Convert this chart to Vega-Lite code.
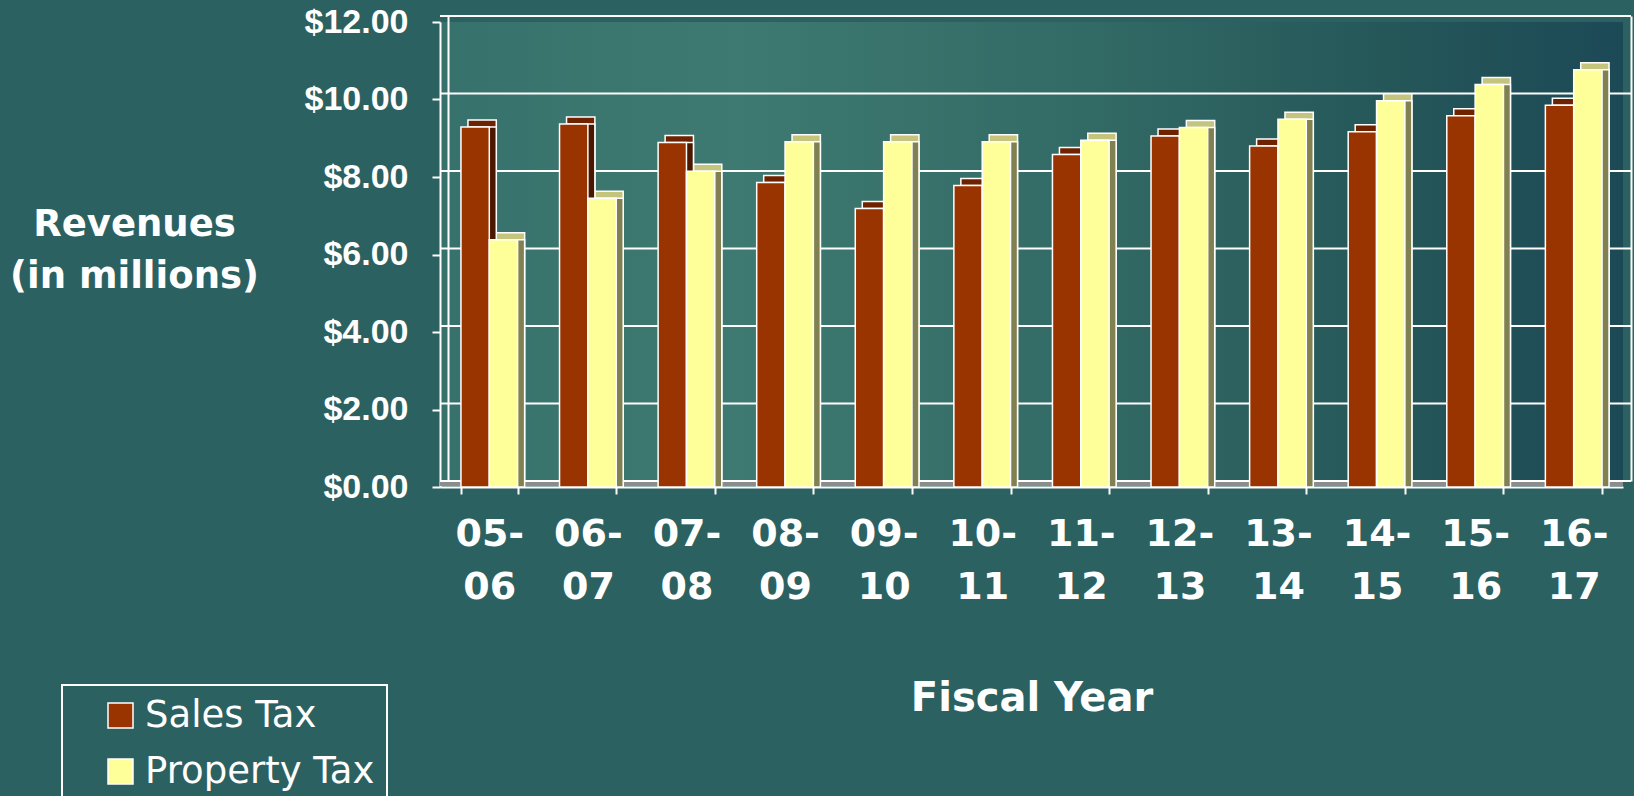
{
  "$schema": "https://vega.github.io/schema/vega-lite/v6.json",
  "width": 1183,
  "height": 465,
  "autosize": {"type": "none"},
  "padding": {"left": 440, "top": 22, "right": 11, "bottom": 309},
  "background": "#2c6161",
  "datasets": {
    "revenue": [
      {"year": "05-06", "type": "Sales Tax", "value": 9.29},
      {"year": "06-07", "type": "Sales Tax", "value": 9.37},
      {"year": "07-08", "type": "Sales Tax", "value": 8.89},
      {"year": "08-09", "type": "Sales Tax", "value": 7.86},
      {"year": "09-10", "type": "Sales Tax", "value": 7.19},
      {"year": "10-11", "type": "Sales Tax", "value": 7.78},
      {"year": "11-12", "type": "Sales Tax", "value": 8.58},
      {"year": "12-13", "type": "Sales Tax", "value": 9.06},
      {"year": "13-14", "type": "Sales Tax", "value": 8.8},
      {"year": "14-15", "type": "Sales Tax", "value": 9.17},
      {"year": "15-16", "type": "Sales Tax", "value": 9.58},
      {"year": "16-17", "type": "Sales Tax", "value": 9.85},
      {"year": "05-06", "type": "Property Tax", "value": 6.38},
      {"year": "06-07", "type": "Property Tax", "value": 7.45},
      {"year": "07-08", "type": "Property Tax", "value": 8.15},
      {"year": "08-09", "type": "Property Tax", "value": 8.91},
      {"year": "09-10", "type": "Property Tax", "value": 8.91},
      {"year": "10-11", "type": "Property Tax", "value": 8.91},
      {"year": "11-12", "type": "Property Tax", "value": 8.95},
      {"year": "12-13", "type": "Property Tax", "value": 9.28},
      {"year": "13-14", "type": "Property Tax", "value": 9.49},
      {"year": "14-15", "type": "Property Tax", "value": 9.97},
      {"year": "15-16", "type": "Property Tax", "value": 10.39},
      {"year": "16-17", "type": "Property Tax", "value": 10.77}
    ],
    "grid": [{"g": 0}, {"g": 2}, {"g": 4}, {"g": 6}, {"g": 8}, {"g": 10}, {"g": 12}]
  },
  "config": {
    "view": {
      "stroke": null,
      "fill": {
        "gradient": "linear", "x1": 0, "y1": 0, "x2": 1, "y2": 0,
        "stops": [
          {"offset": 0, "color": "#37716c"},
          {"offset": 0.25, "color": "#3e7a71"},
          {"offset": 0.55, "color": "#326a65"},
          {"offset": 0.8, "color": "#255759"},
          {"offset": 1, "color": "#1c4956"}
        ]
      }
    },
    "axisX": {
      "titleFont": "DejaVu Sans", "titleFontWeight": "bold", "titleFontSize": 40, "titleColor": "white",
      "titleBaseline": "alphabetic", "titleY": 223,
      "labelFont": "DejaVu Sans", "labelFontWeight": "bold", "labelFontSize": 38, "labelColor": "white",
      "labelLineHeight": 53, "labelPadding": 21, "labelAngle": 0, "labelOverlap": false, "labelBound": false,
      "domainColor": "white", "domainWidth": 2,
      "ticks": true, "tickBand": "extent", "tickColor": "white", "tickWidth": 2, "tickSize": 7,
      "grid": false
    },
    "legend": {"strokeWidth": 2}
  },
  "layer": [
    {
      "data": {"name": "grid"},
      "mark": {"type": "rule", "color": "white", "strokeWidth": 2, "xOffset": 8, "x2Offset": 8, "yOffset": -6},
      "encoding": {
        "y": {
          "field": "g", "type": "quantitative",
          "scale": {"domain": [0, 12], "nice": false},
          "axis": {"orient": "left", "offset": -8, "position": -6, "domain": true, "domainColor": "white", "domainWidth": 2, "labels": false, "ticks": false, "grid": false, "title": null}
        }
      }
    },
    {
      "data": {"values": [{}]},
      "mark": {"type": "rect", "color": "#8c8c8c", "yOffset": -5, "y2Offset": -1},
      "encoding": {
        "y": {"datum": 0, "type": "quantitative", "scale": {"domain": [0, 12], "nice": false}, "axis": null},
        "y2": {"datum": 0}
      }
    },
    {
      "data": {"name": "revenue"},
      "mark": {"type": "bar", "yOffset": -7, "y2Offset": -7, "stroke": "white", "strokeWidth": 1.5},
      "encoding": {
        "x": {"field": "year", "type": "nominal", "scale": {"paddingInner": 0.425, "paddingOuter": 0.2125}, "title": "Fiscal Year", "axis": {"labelExpr": "datum.label ? [split(datum.label, '-')[0] + '-', split(datum.label, '-')[1]] : ''"}},
        "xOffset": {"field": "type", "type": "nominal", "sort": ["Sales Tax", "Property Tax"], "scale": {"range": [7, 63.685]}},
        "y": {"field": "value", "type": "quantitative", "scale": {"domain": [0, 12], "nice": false}, "axis": null},
        "color": {"field": "type", "type": "nominal", "scale": {"domain": ["Sales Tax", "Property Tax"], "range": ["#6e2200", "#c4c47c"]}, "legend": null}
      }
    },
    {
      "data": {"name": "revenue"},
      "mark": {"type": "bar", "stroke": "white", "strokeWidth": 1.5},
      "encoding": {
        "x": {"field": "year", "type": "nominal", "scale": {"paddingInner": 0.425, "paddingOuter": 0.2125}, "title": "Fiscal Year", "axis": {"labelExpr": "datum.label ? [split(datum.label, '-')[0] + '-', split(datum.label, '-')[1]] : ''"}},
        "xOffset": {"field": "type", "type": "nominal", "sort": ["Sales Tax", "Property Tax"], "scale": {"range": [7, 63.685]}},
        "y": {
          "field": "value", "type": "quantitative", "scale": {"domain": [0, 12], "nice": false},
          "axis": {"orient": "right", "offset": 8, "position": -6, "domain": true, "domainColor": "white", "domainWidth": 2, "labels": false, "ticks": false, "grid": false, "title": null}
        },
        "color": {"field": "type", "type": "nominal", "scale": {"domain": ["Sales Tax", "Property Tax"], "range": ["#4a1700", "#808050"]}, "legend": null}
      }
    },
    {
      "data": {"name": "revenue"},
      "mark": {"type": "bar", "stroke": "white", "strokeWidth": 1.5},
      "encoding": {
        "x": {"field": "year", "type": "nominal", "scale": {"paddingInner": 0.425, "paddingOuter": 0.2125}, "title": "Fiscal Year", "axis": {"labelExpr": "datum.label ? [split(datum.label, '-')[0] + '-', split(datum.label, '-')[1]] : ''"}},
        "xOffset": {"field": "type", "type": "nominal", "sort": ["Sales Tax", "Property Tax"]},
        "y": {
          "field": "value", "type": "quantitative", "scale": {"domain": [0, 12], "nice": false},
          "axis": {
            "orient": "left",
            "values": [0, 2, 4, 6, 8, 10, 12],
            "format": "$.2f",
            "labelFont": "Liberation Sans", "labelFontWeight": "bold", "labelFontSize": 34, "labelColor": "white",
            "labelPadding": 24,
            "domainColor": "white", "domainWidth": 2,
            "tickColor": "white", "tickWidth": 2, "tickSize": 8,
            "grid": false,
            "title": ["Revenues", "(in millions)"],
            "titleFont": "DejaVu Sans", "titleFontWeight": "bold", "titleFontSize": 37, "titleColor": "white",
            "titleAngle": 0, "titleAlign": "center", "titleBaseline": "alphabetic",
            "titleX": -306, "titleY": 213, "titleLineHeight": 52
          }
        },
        "color": {
          "field": "type", "type": "nominal",
          "scale": {"domain": ["Sales Tax", "Property Tax"], "range": ["#993300", "#FFFF99"]},
          "legend": {
            "title": null, "orient": "none", "legendX": -378, "legendY": 663,
            "symbolType": "square", "symbolSize": 625, "symbolStrokeColor": "white", "symbolStrokeWidth": 1.5,
            "labelFont": "DejaVu Sans", "labelFontSize": 37, "labelColor": "white", "labelLimit": 500,
            "labelExpr": "datum.label + '\u00a0\u00a0\u00a0'",
            "padding": 12, "symbolOffset": 28, "labelOffset": 6, "rowPadding": 18,
            "strokeColor": "white"
          }
        }
      }
    }
  ],
  "resolve": {"scale": {"color": "independent", "xOffset": "independent"}, "axis": {"y": "independent"}}
}
